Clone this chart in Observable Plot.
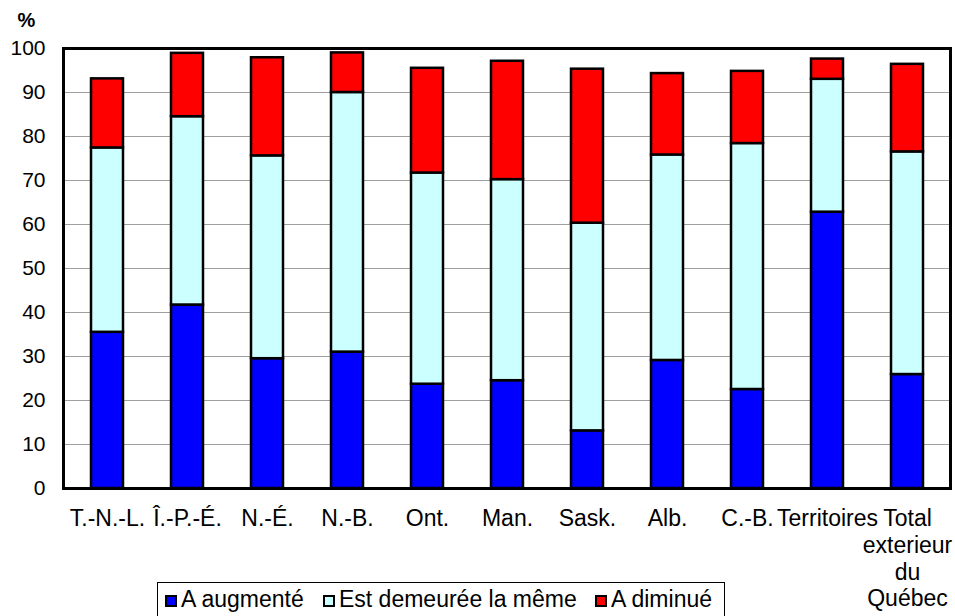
<!DOCTYPE html>
<html>
<head>
<meta charset="utf-8">
<script src="https://cdn.jsdelivr.net/npm/d3@7"></script>
<script src="https://cdn.jsdelivr.net/npm/@observablehq/plot@0.6"></script>
<style>
  body { margin: 0; background: #fff; font-family: "Liberation Sans", Arial, sans-serif; }
  #wrap { position: relative; width: 955px; height: 616px; overflow: hidden; }
  #legend { position: absolute; left: 157px; top: 582px; width: 568px; height: 44px; border: 1px solid #000; box-sizing: border-box; font-size: 23px; color: #000; }
  #legend .sw { position: absolute; top: 12px; width: 12px; height: 12px; border: 2px solid #000; box-sizing: border-box; }
  #legend .lb { position: absolute; top: 4px; line-height: 24px; white-space: nowrap; }
</style>
</head>
<body>
<div id="wrap"></div>
<script>
const categories = ["T.-N.-L.", "Î.-P.-É.", "N.-É.", "N.-B.", "Ont.", "Man.", "Sask.", "Alb.", "C.-B.", "Territoires", "Total\nexterieur\ndu\nQuébec"];
const seriesNames = ["A augmenté", "Est demeurée la même", "A diminué"];
const augmente = [35.5, 41.7, 29.5, 31.0, 23.7, 24.5, 13.1, 29.1, 22.5, 62.8, 25.9];
const demeuree = [41.9, 42.8, 46.1, 59.0, 48.0, 45.7, 47.2, 46.7, 55.9, 30.2, 50.6];
const diminue  = [15.7, 14.4, 22.3,  9.0, 23.8, 26.9, 35.0, 18.5, 16.4,  4.6, 19.9];
const colors = ["#0000ff", "#ccffff", "#ff0000"];
const yTicks = [0, 10, 20, 30, 40, 50, 60, 70, 80, 90, 100];

const seriesValues = [augmente, demeuree, diminue];
const data = [];
seriesNames.forEach((s, i) => seriesValues[i].forEach((v, j) => data.push({cat: categories[j], series: s, value: v})));

const chart = Plot.plot({
  width: 955,
  height: 616,
  marginLeft: 63,
  marginRight: 5,
  marginTop: 48,
  marginBottom: 128,
  style: {fontFamily: "'Liberation Sans', Arial, sans-serif", fontSize: "21px", color: "#000", background: "#fff", overflow: "visible"},
  x: {domain: categories, paddingInner: 0.6, paddingOuter: 0.3, axis: null},
  y: {domain: [0, 100], axis: null},
  color: {domain: seriesNames, range: colors},
  marks: [
    Plot.ruleY(yTicks.filter(d => d > 0 && d < 100), {stroke: "#a0a0a0", strokeWidth: 1}),
    Plot.barY(data, {x: "cat", y: "value", fill: "series", stroke: "#000", strokeWidth: 2.5, order: null}),
    Plot.frame({stroke: "#000", strokeWidth: 3}),
    Plot.axisY(yTicks, {tickSize: 0, tickPadding: 18, fontSize: 21, textAnchor: "end", label: null}),
    Plot.axisX({tickSize: 0, tickPadding: 19, fontSize: 23, lineHeight: 1.16, tickFormat: d => d, label: null}),
    Plot.text(["%"], {frameAnchor: "top-left", text: d => d, dx: -37, dy: -28, textAnchor: "middle", lineAnchor: "middle", fontWeight: "bold", fontSize: 20})
  ]
});
document.getElementById("wrap").appendChild(chart);

const legend = document.createElement("div");
legend.id = "legend";
const swX = [7, 165, 437];
const lbX = [23, 181, 453];
seriesNames.forEach((s, i) => {
  const sw = document.createElement("div");
  sw.className = "sw";
  sw.style.left = swX[i] + "px";
  sw.style.background = colors[i];
  legend.appendChild(sw);
  const lb = document.createElement("div");
  lb.className = "lb";
  lb.style.left = lbX[i] + "px";
  lb.textContent = s;
  legend.appendChild(lb);
});
document.getElementById("wrap").appendChild(legend);
</script>
</body>
</html>
